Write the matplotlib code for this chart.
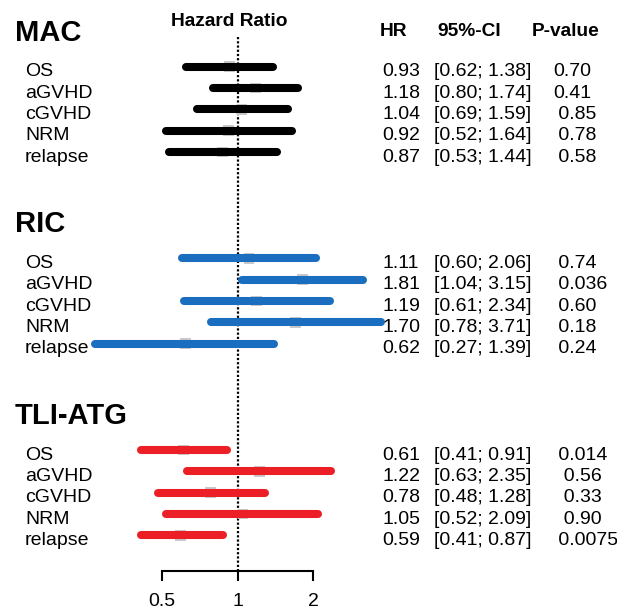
import matplotlib
matplotlib.use("Agg")
import matplotlib.pyplot as plt
import matplotlib.transforms as mtransforms

plt.rcParams['font.family'] = ['Liberation Sans', 'DejaVu Sans']

# ---------------- data ----------------
groups = ["MAC", "RIC", "TLI-ATG"]
outcomes = ["OS", "aGVHD", "cGVHD", "NRM", "relapse"]
group_colors = ["#000000", "#1b6ebf", "#ec1f26"]

hr_mac = [0.93, 1.18, 1.04, 0.92, 0.87]
lo_mac = [0.62, 0.80, 0.69, 0.52, 0.53]
hi_mac = [1.38, 1.74, 1.59, 1.64, 1.44]
p_mac = ["0.70", "0.41", " 0.85", " 0.78", " 0.58"]

hr_ric = [1.11, 1.81, 1.19, 1.70, 0.62]
lo_ric = [0.60, 1.04, 0.61, 0.78, 0.27]
hi_ric = [2.06, 3.15, 2.34, 3.71, 1.39]
p_ric = [" 0.74", " 0.036", " 0.60", " 0.18", " 0.24"]

hr_tli = [0.61, 1.22, 0.78, 1.05, 0.59]
lo_tli = [0.41, 0.63, 0.48, 0.52, 0.41]
hi_tli = [0.91, 2.35, 1.28, 2.09, 0.87]
p_tli = [" 0.014", "  0.56", "  0.33", "  0.90", " 0.0075"]

hr_all = [hr_mac, hr_ric, hr_tli]
lo_all = [lo_mac, lo_ric, lo_tli]
hi_all = [hi_mac, hi_ric, hi_tli]
p_all = [p_mac, p_ric, p_tli]

x_ticks = [0.5, 1, 2]
x_ticklabels = ["0.5", "1", "2"]

# ---------------- layout ----------------
W, H = 617, 612
fig = plt.figure(figsize=(W / 100, H / 100), dpi=100)

axis_pix = 571          # pixel row of the x axis line (from top)
ax = fig.add_axes([0, (H - axis_pix) / H, 1, axis_pix / H])
ax.set_xscale('log', base=2)
x0, ppo = 237.7, 75.5   # pixel of HR=1, pixels per doubling
ax.set_xlim(2 ** (-x0 / ppo), 2 ** ((W - x0) / ppo))
y0, rowh = 66.7, 21.3
ax.set_ylim((axis_pix - y0) / rowh, -y0 / rowh)

for s in ['top', 'left', 'right']:
    ax.spines[s].set_visible(False)
ax.spines['bottom'].set_bounds(0.5, 2)
ax.spines['bottom'].set_linewidth(1.5)
ax.set_yticks([])
ax.set_xticks(x_ticks)
ax.set_xticklabels(x_ticklabels, fontsize=14)
ax.xaxis.set_minor_locator(matplotlib.ticker.NullLocator())
ax.tick_params(axis='x', direction='out', length=7, width=1.5, pad=8.5)

trans = mtransforms.blended_transform_factory(ax.transAxes, ax.transData)
def px(x):
    return x / W

# reference line
ax.plot([1, 1], [(37 - y0) / rowh, (axis_pix - y0) / rowh], color='black',
        lw=1.6, dashes=(1.0, 0.9), zorder=1)

FS = 14
group_start = [0, 9, 18]
for g, name in enumerate(groups):
    r0 = group_start[g]
    ax.text(px(15), r0 - 1.6, name, transform=trans, fontsize=21,
            fontweight='bold', va='center', ha='left')
    for i, oc in enumerate(outcomes):
        r = r0 + i
        ax.scatter([hr_all[g][i]], [r], marker='s', s=60, color='#c9c9c9',
                   edgecolors='none', zorder=2)
        ax.plot([lo_all[g][i], hi_all[g][i]], [r, r], color=group_colors[g],
                lw=5.8, solid_capstyle='round', zorder=3)
        ty = r + 0.24
        ax.text(px(25), ty, oc, transform=trans, fontsize=FS, va='center', ha='left')
        ax.text(px(382), ty, f"{hr_all[g][i]:.2f}", transform=trans, fontsize=FS,
                va='center', ha='left')
        ax.text(px(433.5), ty, f"[{lo_all[g][i]:.2f}; {hi_all[g][i]:.2f}]",
                transform=trans, fontsize=FS, va='center', ha='left')
        ax.text(px(553), ty, p_all[g][i], transform=trans, fontsize=FS,
                va='center', ha='left')

# headers
HFS = 13.8
ax.text(px(229.5), -2.13, "Hazard Ratio", transform=trans, fontsize=HFS,
        fontweight='bold', va='center', ha='center')
ax.text(px(380), -1.64, "HR", transform=trans, fontsize=HFS,
        fontweight='bold', va='center', ha='left')
ax.text(px(437), -1.64, "95%-CI", transform=trans, fontsize=HFS,
        fontweight='bold', va='center', ha='left')
ax.text(px(531.5), -1.64, "P-value", transform=trans, fontsize=HFS,
        fontweight='bold', va='center', ha='left')

fig.savefig("out.png", dpi=100)
